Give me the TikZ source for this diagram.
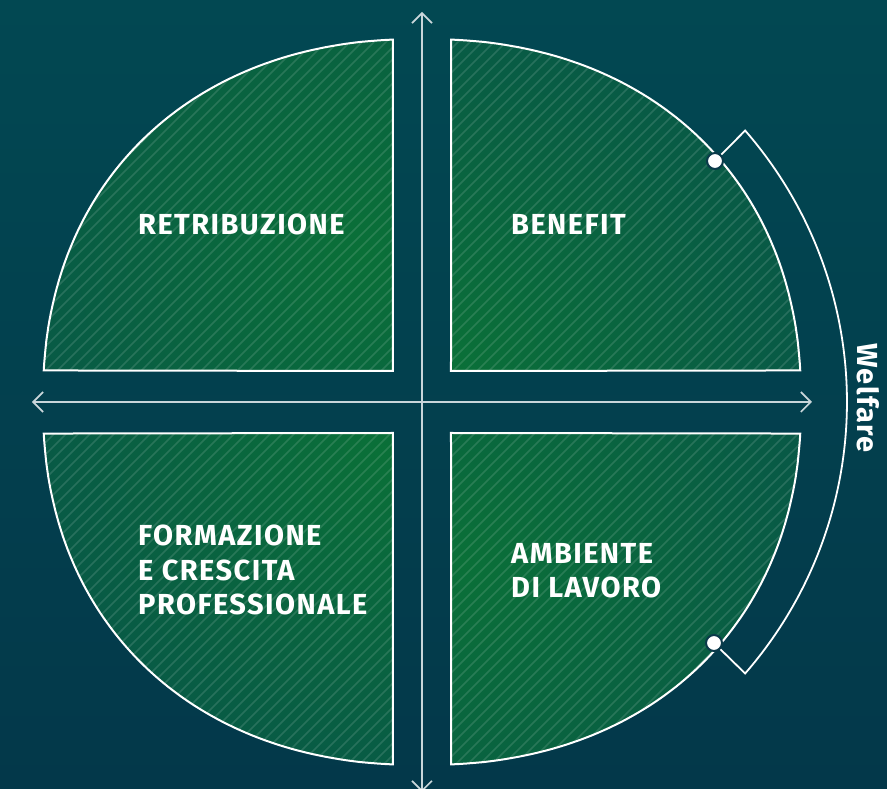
\documentclass[tikz,border=0pt]{standalone}
\usepackage{fontspec}
\setmainfont{Fira Sans}[LetterSpace=5]
\usetikzlibrary{arrows.meta}
\definecolor{bgtop}{HTML}{024852}
\definecolor{bgbot}{HTML}{03384A}
\definecolor{qgreen}{HTML}{0A7038}
\definecolor{qteal}{HTML}{074E4D}
\definecolor{axiscol}{HTML}{C9D6DA}
\definecolor{dotrim}{HTML}{0B3A4A}
\begin{document}
\begin{tikzpicture}[x=1pt,y=1pt,
  quadedge/.style={draw=white,line width=2pt},
  hatch/.style={white,opacity=0.13,line width=1.6pt},
  axisline/.style={axiscol,line width=1.6pt,{Straight Barb[length=10pt,width=20pt]}-{Straight Barb[length=10pt,width=20pt]}},
  lbl/.style={text=white,font=\bfseries\fontsize{29}{34.5}\selectfont,align=left,anchor=north west,inner sep=0pt},
  dotnode/.style={circle,fill=white,draw=dotrim,line width=2pt,minimum size=16pt,inner sep=0pt}]
\useasboundingbox (-422,-387) rectangle (465,402);
\shade[top color=bgtop,bottom color=bgbot] (-422,-387) rectangle (465,402);
\foreach \sx/\sy/\gx/\gy in {1/1/30/40, -1/1/-60/150, -1/-1/-40/-50, 1/-1/40/-160} {
  \def\qpath{(\sx*29,\sy*31) -- plot[domain=3.83:86.6,samples=80,variable=\t] ({\sx*379*pow(cos(\t),0.909)},{\sy*363*pow(sin(\t),0.909)}) -- cycle}
  \begin{scope}
    \clip \qpath;
    \fill[qteal] (-400,-400) rectangle (400,400);
    \shade[inner color=qgreen,outer color=qteal] (\gx-520,\gy-520) rectangle (\gx+520,\gy+520);
    \foreach \k in {-70,...,70}
      \draw[hatch] (\k*12-400,-400) -- ++(800,800);
  \end{scope}
  \draw[quadedge] \qpath;
}
\coordinate (west) at (-390,0);
\coordinate (east) at (390,0);
\coordinate (north) at (0,390);
\coordinate (south) at (0,-390);
\draw[axisline] (west) -- (east);
\draw[axisline] (south) -- (north);
\coordinate (d1) at (293,241);
\coordinate (d2) at (292,-241);
\draw[white,line width=1.8pt] (d1) -- (40.5:425pt and 418pt) arc[start angle=40.5,end angle=-40.5,x radius=425,y radius=418] -- (d2);
\node[dotnode] (top dot) at (d1) {};
\node[dotnode] (bottom dot) at (d2) {};
\node[lbl] (retribuzione) at (-284,188) {RETRIBUZIONE};
\node[lbl] (benefit) at (89,188) {BENEFIT};
\node[lbl] (formazione) at (-284,-123) {FORMAZIONE\\E CRESCITA\\PROFESSIONALE};
\node[lbl] (ambiente) at (89,-141) {AMBIENTE\\DI LAVORO};
\node[rotate=-90,text=white,font=\bfseries\fontsize{29}{34}\selectfont,inner sep=0pt] (welfare) at (446,4) {Welfare};
\end{tikzpicture}
\end{document}
